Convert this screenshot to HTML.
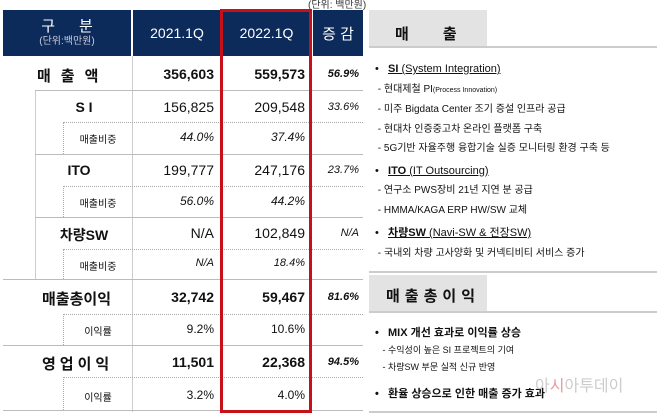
<!DOCTYPE html>
<html><head><meta charset="utf-8"><style>
*{margin:0;padding:0;box-sizing:border-box}
body{width:658px;height:414px;background:#fff;position:relative;overflow:hidden;font-family:"Liberation Sans","Noto Sans CJK KR",sans-serif;color:#111}
.a{position:absolute}
.hd{background:#0c2a5a;color:#fff;top:10px;height:46px;display:flex;align-items:center;justify-content:center;font-size:14px}
.num{text-align:right;font-size:14px}
.b{font-weight:bold}
.i{font-style:italic}
.hl{height:1px;background:#bbb}
.dl{height:0;border-top:1px dotted #aaa}
.lbl{text-align:center;font-size:13px}
.r{font-size:10px;color:#111}
.u{text-decoration:underline}
</style></head><body>
<div class="a" style="top:-4px;left:308px;font-size:10px;color:#333">(단위: 백만원)</div>
<div class="a hd" style="left:3px;width:128px;flex-direction:column;line-height:1.1"><span style="font-size:15px;letter-spacing:24px;margin-left:24px">구분</span><span style="font-size:10px;color:#ccd">(단위:백만원)</span></div>
<div class="a hd" style="left:133px;width:88px">2021.1Q</div>
<div class="a hd" style="left:222px;width:89px">2022.1Q</div>
<div class="a hd" style="left:313px;width:50px;font-size:15px">증 감</div>

<!-- lines -->
<div class="a" style="left:132px;top:56px;width:1px;height:356px;background:#ccc"></div>
<div class="a" style="left:35px;top:90px;width:1px;height:189px;background:#ccc"></div>
<div class="a" style="left:63px;top:122px;height:32px;border-left:1px dotted #aaa"></div>
<div class="a" style="left:63px;top:186px;height:31px;border-left:1px dotted #aaa"></div>
<div class="a" style="left:63px;top:249px;height:30px;border-left:1px dotted #aaa"></div>
<div class="a" style="left:63px;top:314px;height:31px;border-left:1px dotted #aaa"></div>
<div class="a" style="left:63px;top:377px;height:33px;border-left:1px dotted #aaa"></div>
<div class="a hl" style="left:35px;top:90px;width:328px"></div>
<div class="a dl" style="left:63px;top:122px;width:300px"></div>
<div class="a hl" style="left:35px;top:154px;width:328px"></div>
<div class="a dl" style="left:63px;top:186px;width:300px"></div>
<div class="a hl" style="left:35px;top:217px;width:328px"></div>
<div class="a dl" style="left:63px;top:249px;width:300px"></div>
<div class="a hl" style="left:3px;top:279px;width:360px"></div>
<div class="a dl" style="left:63px;top:314px;width:300px"></div>
<div class="a hl" style="left:3px;top:345px;width:360px"></div>
<div class="a dl" style="left:63px;top:377px;width:300px"></div>
<div class="a hl" style="left:3px;top:410px;width:360px"></div>

<!-- rows: label, v1, v2, change -->
<div class="a b" style="left:37px;top:65px;font-size:15px;letter-spacing:10px">매출액</div>
<div class="a num b" style="left:133px;width:81px;top:66px">356,603</div>
<div class="a num b" style="left:222px;width:83px;top:66px">559,573</div>
<div class="a num b i" style="left:313px;width:46px;top:68px;font-size:11px">56.9%</div>

<div class="a b lbl" style="left:36px;width:96px;top:99px;font-size:14px">S I</div>
<div class="a num" style="left:133px;width:81px;top:99px">156,825</div>
<div class="a num" style="left:222px;width:83px;top:99px">209,548</div>
<div class="a num i" style="left:313px;width:46px;top:101px;font-size:11px">33.6%</div>
<div class="a lbl" style="left:64px;width:68px;top:131px;font-size:10px">매출비중</div>
<div class="a num i" style="left:133px;width:81px;top:130px;font-size:12px">44.0%</div>
<div class="a num i" style="left:222px;width:83px;top:130px;font-size:12px">37.4%</div>

<div class="a b lbl" style="left:36px;width:96px;top:162px;font-size:14px;padding-right:10px">ITO</div>
<div class="a num" style="left:133px;width:81px;top:162px">199,777</div>
<div class="a num" style="left:222px;width:83px;top:162px">247,176</div>
<div class="a num i" style="left:313px;width:46px;top:164px;font-size:11px">23.7%</div>
<div class="a lbl" style="left:64px;width:68px;top:195px;font-size:10px">매출비중</div>
<div class="a num i" style="left:133px;width:81px;top:194px;font-size:12px">56.0%</div>
<div class="a num i" style="left:222px;width:83px;top:194px;font-size:12px">44.2%</div>

<div class="a b lbl" style="left:36px;width:96px;top:225px;font-size:14px">차량SW</div>
<div class="a num" style="left:133px;width:81px;top:225px">N/A</div>
<div class="a num" style="left:222px;width:83px;top:225px">102,849</div>
<div class="a num i" style="left:313px;width:46px;top:227px;font-size:11px">N/A</div>
<div class="a lbl" style="left:64px;width:68px;top:258px;font-size:10px">매출비중</div>
<div class="a num i" style="left:133px;width:81px;top:257px;font-size:11px">N/A</div>
<div class="a num i" style="left:222px;width:83px;top:257px;font-size:11px">18.4%</div>

<div class="a b" style="left:42px;top:288px;font-size:15px">매출총이익</div>
<div class="a num b" style="left:133px;width:81px;top:289px">32,742</div>
<div class="a num b" style="left:222px;width:83px;top:289px">59,467</div>
<div class="a num b i" style="left:313px;width:46px;top:291px;font-size:11px">81.6%</div>
<div class="a lbl" style="left:64px;width:68px;top:323px;font-size:10px">이익률</div>
<div class="a num" style="left:133px;width:81px;top:322px;font-size:12px">9.2%</div>
<div class="a num" style="left:222px;width:83px;top:322px;font-size:12px">10.6%</div>

<div class="a b" style="left:42px;top:353px;font-size:15px;letter-spacing:4px">영업이익</div>
<div class="a num b" style="left:133px;width:81px;top:354px">11,501</div>
<div class="a num b" style="left:222px;width:83px;top:354px">22,368</div>
<div class="a num b i" style="left:313px;width:46px;top:356px;font-size:11px">94.5%</div>
<div class="a lbl" style="left:64px;width:68px;top:389px;font-size:10px">이익률</div>
<div class="a num" style="left:133px;width:81px;top:388px;font-size:12px">3.2%</div>
<div class="a num" style="left:222px;width:83px;top:388px;font-size:12px">4.0%</div>

<div class="a" style="left:220px;top:9px;width:92px;height:404px;border:3px solid #c8101a"></div>

<!-- right panel -->
<div class="a" style="left:369px;top:10px;width:118px;height:37px;background:#e3e3e3;font-size:15px;font-weight:bold;padding:13px 0 0 26px;letter-spacing:0"><span>매</span><span style="margin-left:34px">출</span></div>
<div class="a" style="left:369px;top:46px;width:288px;height:2px;background:#ccc"></div>
<div class="a r" style="left:375px;top:60px;line-height:19.5px;width:285px">
<div style="font-size:11px">•&nbsp;&nbsp;&nbsp;<span class="u"><b>SI</b> (System Integration)</span></div>
<div>&nbsp;- 현대제철 PI<span style="font-size:7px">(Process Innovation)</span></div>
<div>&nbsp;- 미주 Bigdata Center 조기 증설 인프라 공급</div>
<div>&nbsp;- 현대차 인증중고차 온라인 플랫폼 구축</div>
<div>&nbsp;- 5G기반 자율주행 융합기술 실증 모니터링 환경 구축 등</div>
<div style="font-size:11px;margin-top:3px">•&nbsp;&nbsp;&nbsp;<span class="u"><b>ITO</b> (IT Outsourcing)</span></div>
<div>&nbsp;- 연구소 PWS장비 21년 지연 분 공급</div>
<div>&nbsp;- HMMA/KAGA ERP HW/SW 교체</div>
<div style="font-size:11px;margin-top:4px">•&nbsp;&nbsp;&nbsp;<span class="u"><b>차량SW</b> (Navi-SW &amp; 전장SW)</span></div>
<div>&nbsp;- 국내외 차량 고사양화 및 커넥티비티 서비스 증가</div>
</div>
<div class="a" style="left:369px;top:271px;width:288px;height:2px;background:#ccc"></div>
<div class="a" style="left:369px;top:275px;width:118px;height:37px;background:#e3e3e3;font-size:15px;font-weight:bold;padding:10px 0 0 17px;letter-spacing:5px">매출총이익</div>
<div class="a" style="left:369px;top:311px;width:288px;height:2px;background:#ccc"></div>
<div class="a r" style="left:375px;top:325px;line-height:17px">
<div style="font-size:11px;font-weight:bold">•&nbsp;&nbsp;&nbsp;MIX 개선 효과로 이익률 상승</div>
<div style="font-size:9px">&nbsp;&nbsp;&nbsp;- 수익성이 높은 SI 프로젝트의 기여</div>
<div style="font-size:9px">&nbsp;&nbsp;&nbsp;- 차량SW 부문 실적 신규 반영</div>
<div style="font-size:11px;font-weight:bold;margin-top:10px">•&nbsp;&nbsp;&nbsp;환율 상승으로 인한 매출 증가 효과</div>
</div>
<div class="a" style="left:535px;top:372px;font-size:16px;color:#ccc">아<span style="color:#e99">시</span>아투데이</div>
<div class="a" style="left:369px;top:411px;width:288px;height:2px;background:#ccc"></div>
</body></html>
